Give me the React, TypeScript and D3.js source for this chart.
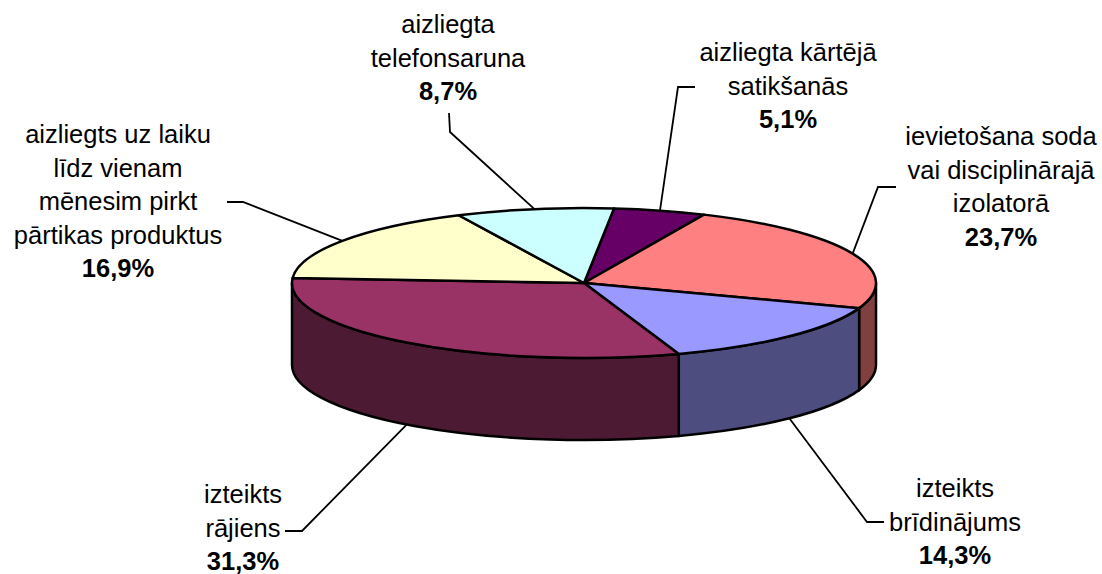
import React from 'react';
import * as d3 from 'd3';

const categories = [
  ['aizliegta kārtējā', 'satikšanās'],
  ['ievietošana soda', 'vai disciplinārajā', 'izolatorā'],
  ['izteikts', 'brīdinājums'],
  ['izteikts', 'rājiens'],
  ['aizliegts uz laiku', 'līdz vienam', 'mēnesim pirkt', 'pārtikas produktus'],
  ['aizliegta', 'telefonsaruna'],
];
const values = [5.1, 23.7, 14.3, 31.3, 16.9, 8.7];
const topColors = ['#660066', '#FF8080', '#9999FF', '#993366', '#FFFFCC', '#CCFFFF'];

// label block: centre x, first baseline, then the leader's elbow and its free end
const labelX = [788, 1001, 955, 243, 118, 448];
const labelY = [61, 145, 497, 503, 143, 33];
const elbows = [[678, 87], [878, 187], [867, 522], [302, 531], [243, 202], [450, 132]];
const leaderEnds = [[695, 87], [896, 187], [884, 522], [285, 531], [227, 202], [449, 113]];

const width = 1102;
const height = 574;
const cx = 584;
const cy = 283;
const rx = 292;
const ry = 75;
const depth = 82;
const lineHeight = 33.5;
const fontSize = 25.5;

const percent = d3.formatLocale({
  decimal: ',',
  thousands: ' ',
  grouping: [3],
  currency: ['', ''],
}).format('.1f');

const toRad = (deg: number) => (deg * Math.PI) / 180;

const slices = d3
  .pie<number>()
  .sort(null)
  .startAngle(toRad(5.9))
  .endAngle(toRad(5.9) + Math.PI * 2)(values);

// angle is clockwise from the top of the pie, as d3.pie gives it
const point = (a: number, dy = 0): [number, number] => [
  cx + rx * Math.sin(a),
  cy - ry * Math.cos(a) + dy,
];

function topPath(a0: number, a1: number) {
  const p0 = point(a0);
  const p1 = point(a1);
  const large = a1 - a0 > Math.PI ? 1 : 0;
  return `M${cx},${cy}L${p0}A${rx},${ry} 0 ${large} 1 ${p1}Z`;
}

function sidePath(a0: number, a1: number) {
  const p0 = point(a0);
  const p1 = point(a1);
  const q0 = point(a0, depth);
  const q1 = point(a1, depth);
  return `M${p0}A${rx},${ry} 0 0 1 ${p1}L${q1}A${rx},${ry} 0 0 0 ${q0}Z`;
}

// the rim is the top colour at half strength
function shade(color: string) {
  const c = d3.rgb(color);
  return d3.rgb(c.r / 2, c.g / 2, c.b / 2).formatHex();
}

export default function App() {
  const sideFrom = Math.PI / 2;
  const sideTo = (Math.PI * 3) / 2;
  return (
    <svg
      width={width}
      height={height}
      style={{ position: 'absolute', left: 0, top: 0, background: '#fff' }}
      fontFamily="'Liberation Sans', Arial, sans-serif"
      fontSize={fontSize}
    >
      {slices.map((s, i) => {
        // only the front half of the rim can be seen
        const a0 = Math.max(s.startAngle, sideFrom);
        const a1 = Math.min(s.endAngle, sideTo);
        if (a1 <= a0) return null;
        return (
          <path
            key={i}
            d={sidePath(a0, a1)}
            fill={shade(topColors[i])}
            stroke="#000"
            strokeWidth={2.5}
            strokeLinejoin="round"
          />
        );
      })}
      {slices.map((s, i) => (
        <path
          key={i}
          d={topPath(s.startAngle, s.endAngle)}
          fill={topColors[i]}
          stroke="#000"
          strokeWidth={2.5}
          strokeLinejoin="round"
        />
      ))}
      {slices.map((s, i) => {
        const mid = (s.startAngle + s.endAngle) / 2;
        const front = mid > sideFrom && mid < sideTo;
        // the lower leaders leave from the bottom of the rim
        const start = point(mid, front ? depth : 0);
        const line = d3.line();
        return (
          <path
            key={i}
            d={line([start, elbows[i] as [number, number], leaderEnds[i] as [number, number]])!}
            fill="none"
            stroke="#000"
            strokeWidth={1.8}
          />
        );
      })}
      {categories.map((lines, i) => (
        <text key={i} textAnchor="middle" fill="#000">
          {lines.map((t, j) => (
            <tspan key={j} x={labelX[i]} y={labelY[i] + j * lineHeight}>
              {t}
            </tspan>
          ))}
          <tspan x={labelX[i]} y={labelY[i] + lines.length * lineHeight} fontWeight="bold">
            {percent(values[i])}%
          </tspan>
        </text>
      ))}
    </svg>
  );
}
